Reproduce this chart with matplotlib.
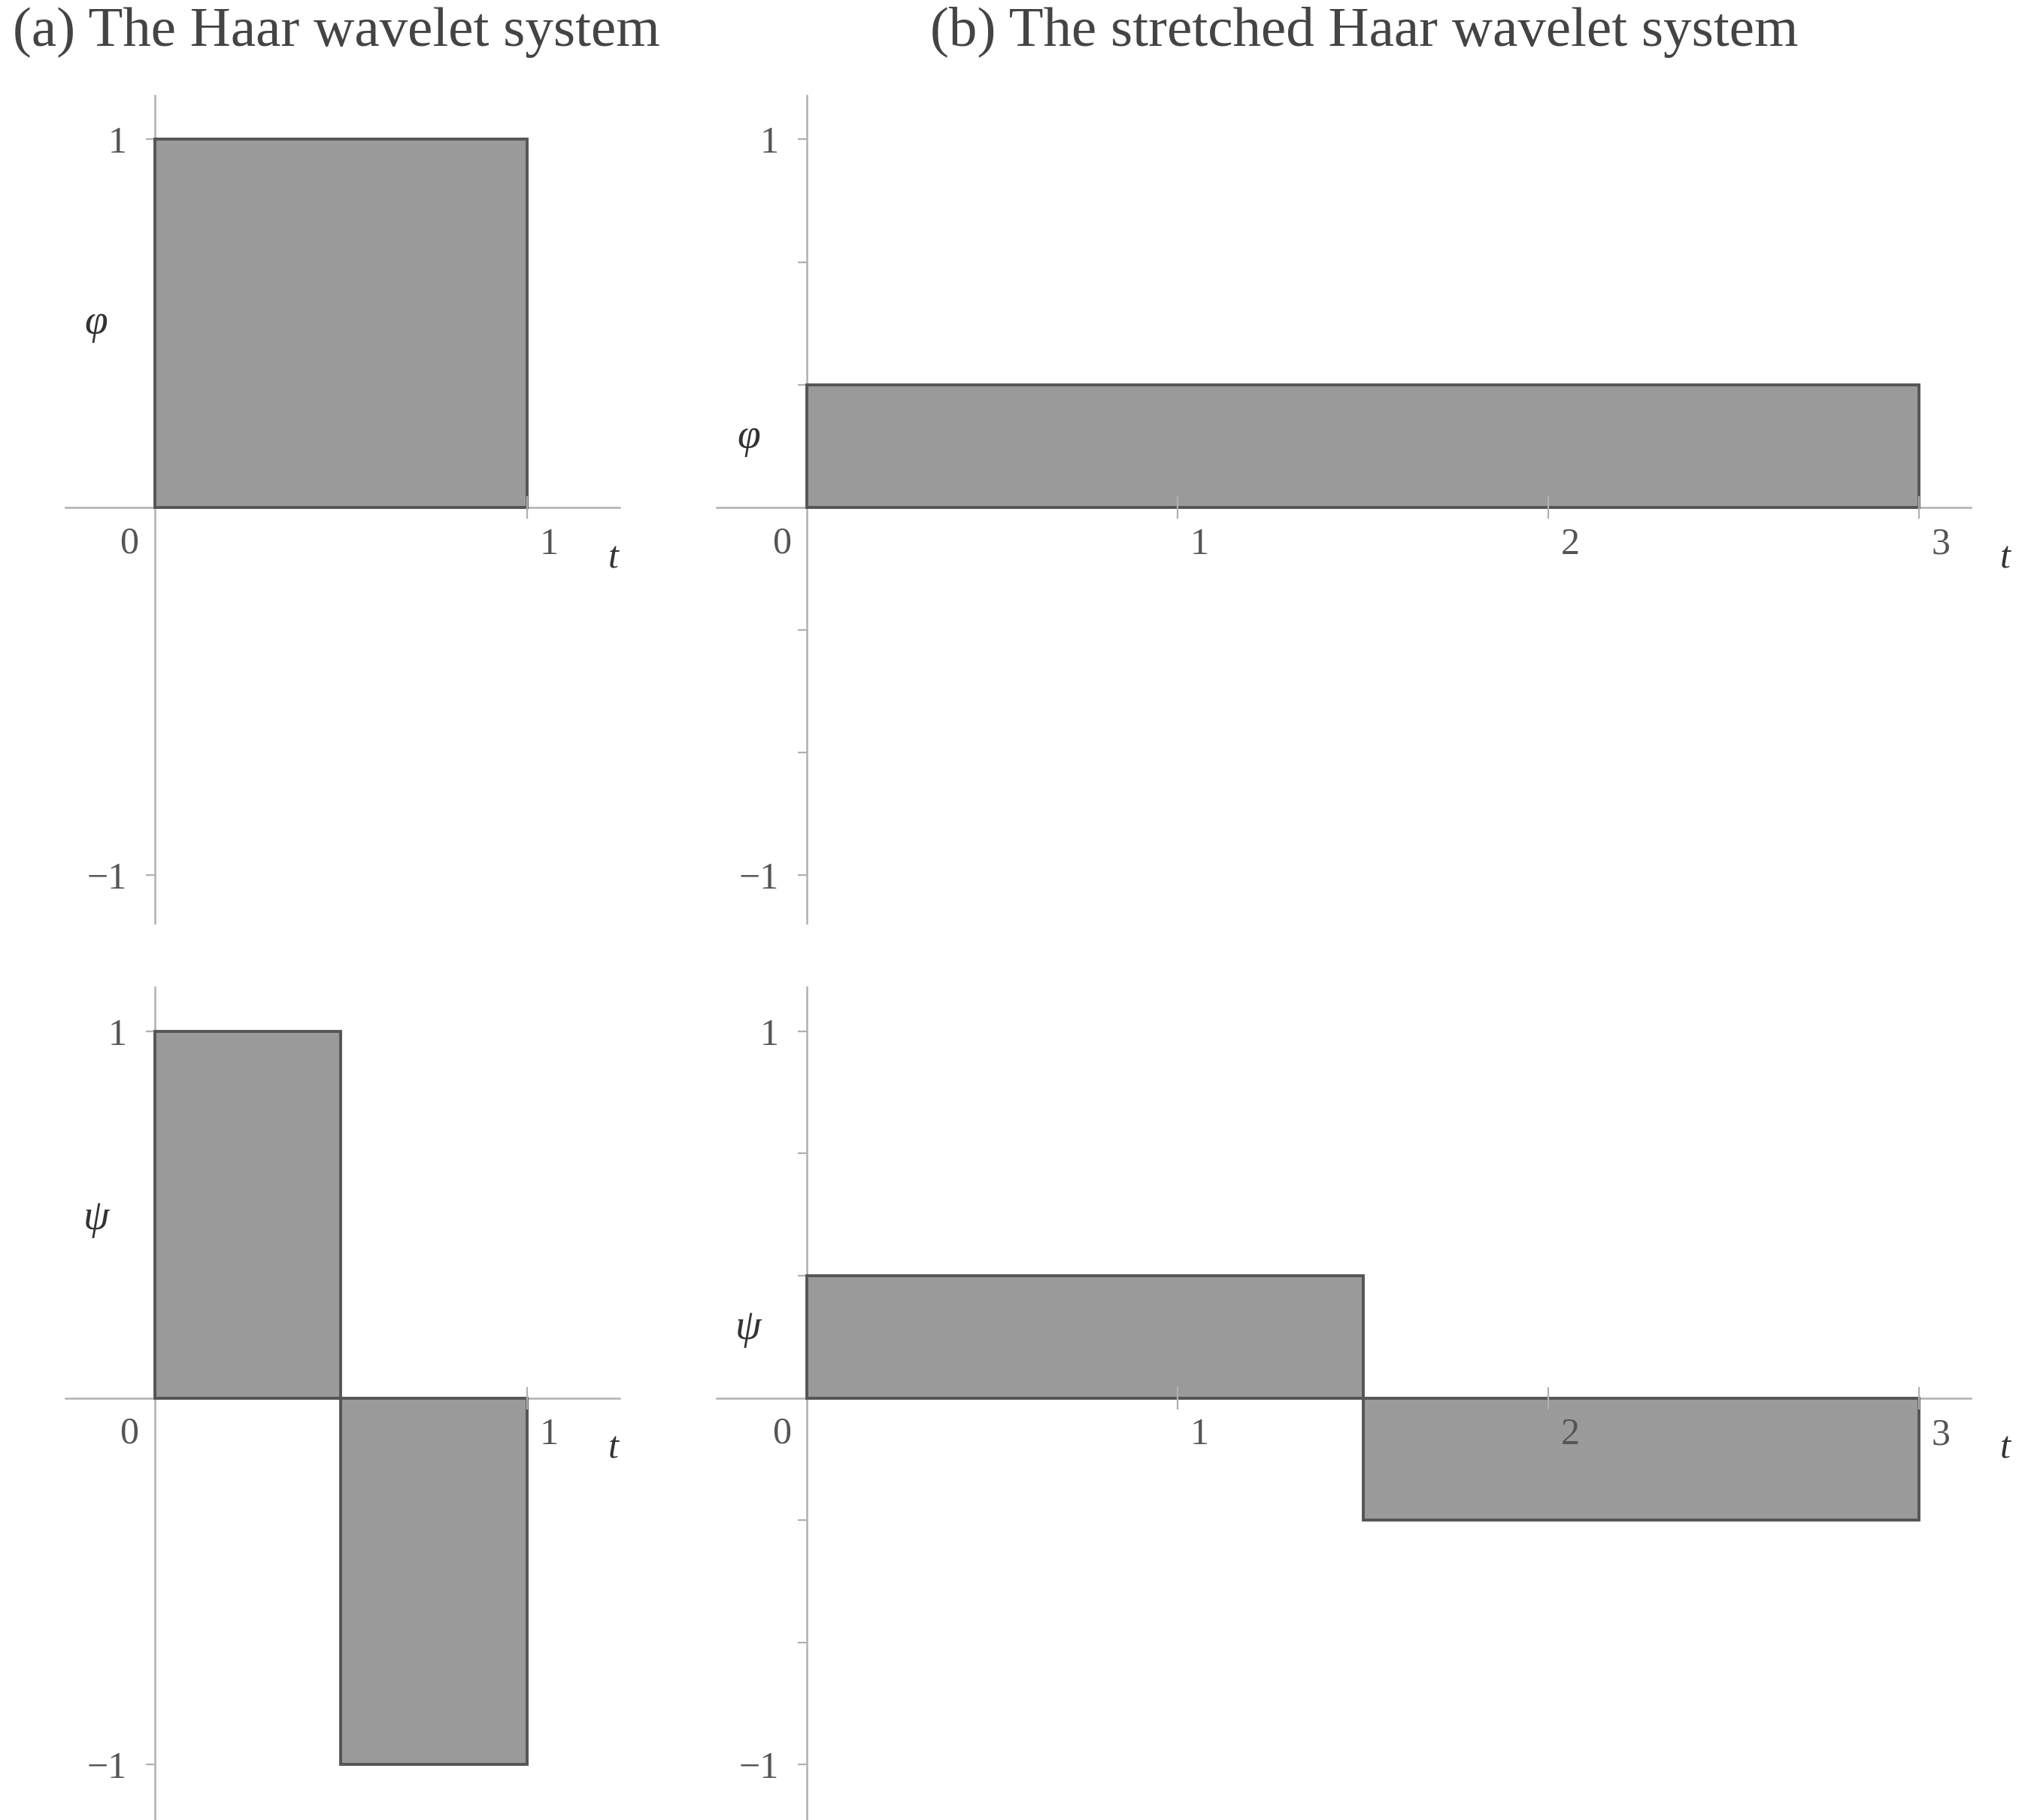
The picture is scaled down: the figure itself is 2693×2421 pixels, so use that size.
import numpy as np
import matplotlib
matplotlib.use("Agg")
import matplotlib.pyplot as plt
from matplotlib.transforms import ScaledTranslation

# ---- data ----
phi_a_edges = [0, 1]
phi_a_vals = [1]
psi_a_edges = [0, 0.5, 1]
psi_a_vals = [1, -1]
phi_b_edges = [0, 3]
phi_b_vals = [1/3]
psi_b_edges = [0, 1.5, 3]
psi_b_vals = [1/3, -1/3]

xticks_a = [1]
xticks_b = [1, 2, 3]
yticks_major = [-1, 1]
yticks_minor_b = [-2/3, -1/3, 1/3, 2/3]
titles = ["(a) The Haar wavelet system", "(b) The stretched Haar wavelet system"]

W, H = 2693, 2421
DW, DH = 1568.0, 1410.0   # reference display coordinate frame

plt.rcParams['font.family'] = ['Liberation Serif', 'DejaVu Serif']
fig = plt.figure(figsize=(W/100, H/100), dpi=100)

FILL = '#9a9a9a'
EDGE = '#555555'
AXC = '#b0b0b0'
TXT = '#555555'

def make_ax(x0, y0, sx, sy, xlim, ylim):
    left = (x0 + sx*xlim[0]) / DW
    right = (x0 + sx*xlim[1]) / DW
    top = (y0 - sy*ylim[1]) / DH
    bot = (y0 - sy*ylim[0]) / DH
    ax = fig.add_axes([left, 1-bot, right-left, bot-top])
    ax.set_xlim(*xlim); ax.set_ylim(*ylim)
    ax.patch.set_alpha(0)
    for s in ['top', 'right']:
        ax.spines[s].set_visible(False)
    ax.spines['left'].set_position(('data', 0))
    ax.spines['bottom'].set_position(('data', 0))
    for s in ['left', 'bottom']:
        ax.spines[s].set_color(AXC)
        ax.spines[s].set_linewidth(1.8)
    return ax

def style(ax, edges, vals, xticks, sym, sym_y, xb, yb, t_dx, minor=None):
    edges = np.asarray(edges, float); vals = np.asarray(vals, float)
    ax.bar(edges[:-1], vals, width=np.diff(edges), align='edge',
           color=FILL, edgecolor=EDGE, linewidth=2.8, zorder=3)
    ax.spines['bottom'].set_bounds(*xb)
    ax.spines['left'].set_bounds(*yb)
    ax.set_yticks(yticks_major)
    ax.set_yticklabels(['\u22121', '1'])
    if minor is not None:
        ax.set_yticks(minor, minor=True)
    ax.tick_params(axis='y', which='both', direction='out', length=9, width=1.6,
                   color=AXC, pad=18, labelsize=36, labelcolor=TXT)
    ax.set_xticks(xticks)
    ax.set_xticklabels([str(v) for v in xticks])
    ax.tick_params(axis='x', direction='inout', length=22, width=1.6, color=AXC,
                   pad=8, labelsize=36, labelcolor=TXT)
    ax.xaxis.set_zorder(4)
    for lab in ax.get_xticklabels():
        lab.set_transform(lab.get_transform() + ScaledTranslation(0.29, 0, fig.dpi_scale_trans))
    ax.annotate('0', xy=(0, 0), xytext=(-34, -48), textcoords='offset pixels',
                ha='center', va='center', fontsize=36, color=TXT)
    ax.annotate('t', xy=(xb[1], 0), xytext=(t_dx, -68), textcoords='offset pixels',
                ha='center', va='center', fontsize=36, color='#333333', style='italic')
    ax.annotate(sym, xy=(0, sym_y), xytext=(-78, 0), textcoords='offset pixels',
                ha='center', va='center', fontsize=40, color='#333333', style='italic')

# panel (a) top
ax1 = make_ax(120, 393, 288, 285, (-0.3, 1.35), (-1.2, 1.2))
style(ax1, phi_a_edges, phi_a_vals, xticks_a, '\u03c6', 0.5, (-0.24, 1.25), (-1.13, 1.12), -9)
# panel (b) top
ax2 = make_ax(625, 393, 287, 285, (-0.3, 3.3), (-1.2, 1.2))
style(ax2, phi_b_edges, phi_b_vals, xticks_b, '\u03c6', 0.19, (-0.245, 3.14), (-1.13, 1.12), 46, yticks_minor_b)
# panel (a) bottom
ax3 = make_ax(120, 1083, 288, 284, (-0.3, 1.35), (-1.15, 1.2))
style(ax3, psi_a_edges, psi_a_vals, xticks_a, '\u03c8', 0.49, (-0.24, 1.25), (-1.15, 1.12), -9)
# panel (b) bottom
ax4 = make_ax(625, 1083, 287, 284, (-0.3, 3.3), (-1.15, 1.2))
style(ax4, psi_b_edges, psi_b_vals, xticks_b, '\u03c8', 0.19, (-0.245, 3.14), (-1.15, 1.12), 46, yticks_minor_b)

fig.text(10/DW, 1-25/DH, titles[0], ha='left', va='center', fontsize=54, color='#444444')
fig.text(720/DW, 1-25/DH, titles[1], ha='left', va='center', fontsize=54, color='#444444')

fig.savefig('out.png', dpi=100, facecolor='white')
